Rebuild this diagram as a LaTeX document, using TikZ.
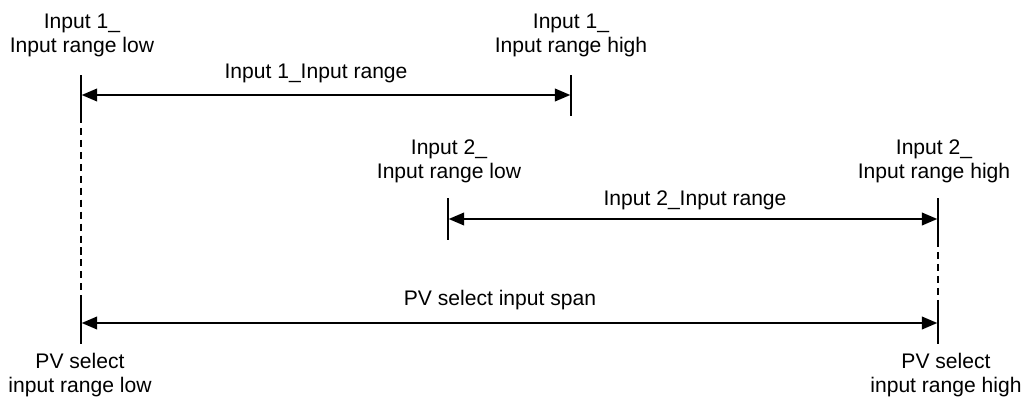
\documentclass[tikz,border=0pt]{standalone}
\usepackage{fontspec}
\setmainfont{Liberation Sans}
\usetikzlibrary{arrows.meta}
\tikzset{
  lbl/.style={font=\fontsize{15}{17}\selectfont, align=center, inner sep=0pt},
  span/.style={{Triangle[length=11pt,width=9pt]}-{Triangle[length=11pt,width=9pt]}, line width=1.4pt, shorten <=0.5pt, shorten >=0.5pt},
  tick/.style={line width=1.1pt},
  guide/.style={line width=1.1pt, dash pattern=on 5pt off 3.5pt}
}
\begin{document}
\begin{tikzpicture}[x=0.025cm,y=-0.025cm]
\useasboundingbox (0,0) rectangle (1025,401);
% end marks
\coordinate (a1) at (81,95);
\coordinate (b1) at (571,95);
\coordinate (a2) at (448,219);
\coordinate (b2) at (938,219);
\coordinate (pl) at (81,323);
\coordinate (ph) at (938,323);
\draw[tick] (81,75) -- (81,116);
\draw[tick] (571,75) -- (571,116);
\draw[tick] (448,198) -- (448,240);
\draw[tick] (938,198) -- (938,240);
\draw[tick] (81,300) -- (81,344);
\draw[tick] (938,300) -- (938,344);
\draw[guide] (81,116) -- (81,300);
\draw[guide] (938,240) -- (938,300);
% ranges
\draw[span] (a1) -- (b1);
\draw[span] (a2) -- (b2);
\draw[span] (pl) -- (ph);
\node[lbl] (r1) at (316,73) {Input 1\_Input range};
\node[lbl] (r2) at (695,200) {Input 2\_Input range};
\node[lbl] (rp) at (500,300) {PV select input span};
% end labels
\node[lbl] (l1) at (82,35) {Input 1\_\\Input range low};
\node[lbl] (h1) at (571,35) {Input 1\_\\Input range high};
\node[lbl] (l2) at (449,161) {Input 2\_\\Input range low};
\node[lbl] (h2) at (934,161) {Input 2\_\\Input range high};
\node[lbl] (lp) at (80,375) {PV select\\input range low};
\node[lbl] (hp) at (946,375) {PV select\\input range high};
\end{tikzpicture}
\end{document}
